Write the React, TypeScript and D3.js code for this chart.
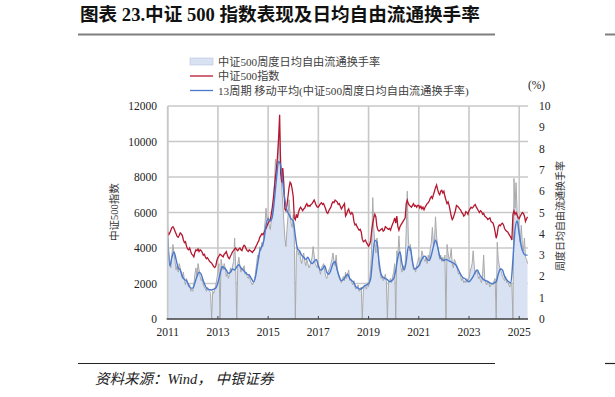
import React from 'react';
import * as d3 from 'd3';

// CSI 500 index, semi-monthly samples starting Jan 2011
const indexValues: number[] = [
  // 2011
  4900, 4750, 4850, 5000, 5150, 5200, 5100, 4950, 4800, 4650, 4600, 4700, 4850, 4800, 4700, 4450, 4300, 4350, 4100, 3950, 3900, 4000, 3800, 3650,
  // 2012
  3600, 3500, 3750, 3900, 3850, 3950, 3800, 3900, 3850, 3750, 3600, 3650, 3500, 3400, 3450, 3350, 3250, 3200, 3150, 3050, 2950, 2900, 3000, 3300,
  // 2013
  3450, 3550, 3650, 3600, 3550, 3500, 3650, 3700, 3800, 3600, 3450, 3400, 3550, 3650, 3800, 3850, 3950, 4000, 3900, 3850, 3950, 4000, 3900, 3850,
  // 2014
  4050, 4150, 4100, 3950, 3850, 3800, 3900, 3850, 3800, 3750, 3850, 3900, 4050, 4150, 4300, 4400, 4600, 4700, 4800, 4750, 4850, 5000, 5100, 5250,
  // 2015
  5400, 5500, 5600, 5900, 6300, 6800, 7400, 8000, 8500, 9200, 10200, 11500, 8200, 7700, 8500, 7600, 6200, 6100, 6400, 6900, 7400, 7700, 7600, 7300,
  // 2016
  6900, 5700, 5600, 5900, 5700, 6000, 6200, 6300, 6200, 6100, 6200, 6250, 6400, 6500, 6350, 6400, 6350, 6450, 6500, 6600, 6700, 6550, 6400, 6300,
  // 2017
  6300, 6400, 6500, 6550, 6450, 6500, 6350, 6200, 6000, 5950, 6100, 6200, 6300, 6500, 6600, 6550, 6700, 6650, 6600, 6450, 6500, 6350, 6200, 6300,
  // 2018
  6400, 6500, 5800, 5900, 6100, 6200, 6000, 5900, 6000, 5900, 5500, 5300, 5350, 5200, 5100, 5000, 5050, 4900, 4500, 4350, 4400, 4450, 4300, 4200,
  // 2019
  4100, 4200, 4400, 5000, 5400, 5700, 5900, 5750, 5200, 5000, 4950, 5000, 5050, 5100, 4950, 5000, 5200, 5150, 5100, 5050, 5100, 5000, 5200, 5350,
  // 2020
  5500, 5700, 5400, 5800, 5200, 5000, 5200, 5300, 5400, 5500, 5600, 5700, 6500, 6700, 6500, 6400, 6350, 6300, 6400, 6500, 6350, 6400, 6300, 6400,
  // 2021
  6400, 6250, 6350, 6200, 6300, 6150, 6300, 6400, 6500, 6550, 6650, 6800, 6900, 6800, 7000, 7200, 7400, 7550, 7300, 7100, 7000, 7200, 7250, 7100,
  // 2022
  7200, 6900, 6700, 6500, 6600, 6400, 6100, 5800, 5600, 5700, 5900, 6100, 6400, 6350, 6300, 6200, 6150, 6000, 5950, 5800, 5850, 6050, 6000, 5900,
  // 2023
  6100, 6200, 6300, 6250, 6300, 6400, 6450, 6300, 6200, 6100, 6000, 6100, 6050, 5900, 5950, 5800, 5750, 5700, 5600, 5650, 5700, 5500, 5450, 5400,
  // 2024
  5200, 4900, 4550, 4800, 5200, 5300, 5250, 5350, 5400, 5300, 5100, 5000, 4950, 4900, 4800, 4700, 4600, 4450, 5900, 6100, 5900, 6000, 5850, 5700,
  // 2025
  5650, 5800, 5900, 6000, 5950, 5800, 5500, 5650, 5750,
];

// weekly average free-float turnover (%), semi-monthly samples; 0 = holiday weeks
const turnoverValues: number[] = [
  4.3, 3.2, 2.6, 2.4, 3.0, 3.5, 3.1, 2.7, 2.3, 2.5, 2.2, 2.6, 2.4, 2.1, 1.9, 2.2, 1.8, 1.6, 1.9, 1.7, 1.5, 1.6, 1.3, 1.4,
  1.3, 1.6, 2.1, 2.4, 2.0, 2.6, 2.3, 2.0, 1.8, 1.9, 1.6, 1.5, 1.4, 1.3, 1.5, 1.4, 1.3, 1.2, 0.0, 1.3, 1.2, 1.4, 1.6, 1.9,
  2.2, 2.6, 0.0, 2.8, 2.5, 2.3, 2.6, 2.4, 2.0, 2.2, 1.9, 2.1, 2.4, 2.2, 2.5, 2.7, 3.8, 2.4, 0.0, 2.6, 2.9, 2.5, 2.2, 2.4,
  2.3, 2.5, 2.1, 2.2, 2.0, 1.9, 2.1, 1.8, 1.7, 1.6, 1.7, 1.8, 2.2, 2.6, 3.0, 2.8, 3.4, 3.2, 3.6, 3.4, 4.0, 4.5, 5.2, 4.6,
  4.8, 4.4, 4.2, 4.6, 4.9, 5.5, 6.3, 7.5, 6.8, 7.2, 8.3, 8.7, 7.6, 6.2, 5.4, 4.6, 3.8, 3.4, 4.2, 4.8, 5.6, 4.9, 4.5, 4.3,
  4.9, 3.8, 0.0, 3.1, 3.4, 3.0, 3.2, 2.8, 2.6, 2.9, 3.1, 2.7, 2.5, 2.8, 2.6, 2.4, 2.5, 2.7, 2.9, 3.4, 3.0, 2.6, 2.5, 2.4,
  2.6, 2.3, 2.1, 2.4, 2.5, 2.6, 2.3, 2.0, 1.9, 2.1, 2.3, 2.4, 2.6, 2.8, 3.1, 2.7, 2.5, 3.0, 2.4, 2.1, 1.9, 1.8, 1.7, 1.9,
  2.0, 1.8, 2.2, 1.9, 2.1, 2.3, 1.8, 1.9, 1.7, 1.6, 1.8, 1.5, 1.4, 1.5, 1.6, 1.3, 1.4, 1.5, 0.0, 1.3, 1.6, 1.5, 1.4, 1.7,
  1.5, 1.9, 2.3, 3.4, 5.7, 4.2, 3.6, 3.1, 3.8, 3.3, 2.4, 2.2, 1.9, 2.0, 1.8, 1.9, 2.1, 1.8, 0.0, 1.7, 1.8, 1.9, 1.7, 2.0,
  2.2, 2.6, 0.0, 3.2, 3.0, 3.9, 3.1, 2.4, 2.2, 2.5, 2.3, 2.6, 4.2, 6.0, 3.8, 3.2, 3.5, 3.0, 2.6, 2.3, 2.4, 2.2, 2.5, 2.7,
  2.9, 2.5, 2.8, 3.2, 3.0, 2.8, 2.7, 2.9, 2.6, 3.0, 2.8, 3.3, 3.6, 4.3, 3.5, 3.7, 4.8, 3.9, 3.4, 3.1, 2.8, 3.0, 2.7, 2.9,
  2.7, 3.0, 0.0, 3.5, 3.1, 2.8, 2.9, 3.3, 2.6, 2.4, 2.8, 2.7, 2.5, 2.3, 2.1, 2.2, 2.0, 1.8, 1.9, 1.7, 1.8, 1.7, 1.9, 1.8,
  1.9, 2.2, 2.4, 2.6, 3.2, 2.5, 2.1, 2.3, 2.2, 1.9, 2.0, 1.8, 1.7, 2.1, 3.0, 1.9, 1.7, 1.6, 1.8, 1.7, 1.5, 1.6, 1.7, 1.6,
  1.8, 1.9, 0.0, 3.6, 2.8, 2.5, 2.3, 2.2, 2.0, 1.9, 1.8, 2.0, 1.7, 1.8, 1.6, 1.5, 1.7, 1.6, 0.0, 6.6, 5.2, 6.4, 5.0, 4.6,
  4.0, 3.6, 4.4, 3.5, 3.2, 3.8, 2.9, 2.8, 2.6,
];

// 13-week moving average of turnover (%), monthly samples
const maValues: number[] = [
  3.8, 2.5, 2.9, 3.15, 2.8, 2.4, 2.3, 2.0, 1.85, 1.8, 1.6, 1.45,
  1.45, 1.7, 2.0, 2.2, 2.1, 1.8, 1.55, 1.4, 1.38, 1.36, 1.4, 1.45,
  1.7, 2.1, 2.45, 2.4, 2.3, 2.15, 2.2, 2.35, 2.3, 2.45, 2.55, 2.4,
  2.3, 2.2, 2.1, 2.05, 1.9, 1.75, 2.0, 2.6, 3.2, 3.4, 3.7, 4.4,
  4.7, 4.6, 4.8, 5.6, 6.6, 7.4, 7.2, 6.4, 5.6, 5.1, 4.9, 4.7,
  4.6, 3.9, 3.3, 3.2, 3.0, 2.9, 2.8, 2.9, 2.7, 2.6, 2.7, 2.8,
  2.5, 2.3, 2.35, 2.5, 2.2, 2.1, 2.3, 2.6, 2.7, 2.3, 2.0, 1.8,
  1.85, 2.0, 2.1, 1.9, 1.8, 1.7, 1.5, 1.45, 1.4, 1.45, 1.55, 1.6,
  1.65, 1.9, 2.9, 3.7, 3.6, 2.7, 2.1, 1.95, 1.9, 1.85, 1.75, 1.8,
  1.9, 2.3, 2.9, 3.15, 2.6, 2.3, 2.7, 3.4, 3.3, 2.7, 2.35, 2.4,
  2.5, 2.7, 2.9, 2.95, 2.8, 2.75, 3.0, 3.4, 3.7, 3.4, 2.95, 2.8,
  2.75, 2.8, 2.75, 2.7, 2.65, 2.6, 2.5, 2.3, 2.1, 1.95, 1.9, 1.8,
  1.75, 1.85, 2.0, 2.2, 2.3, 2.1, 1.95, 1.85, 1.8, 1.75, 1.7, 1.65,
  1.7, 1.75, 2.1, 2.35, 2.3, 2.0, 1.85, 1.75, 1.7, 2.8, 4.2, 4.6,
  4.0, 3.4, 3.1, 3.0, 3.0,
];

const leftTicks = [0, 2000, 4000, 6000, 8000, 10000, 12000];
const rightTicks = [0, 1, 2, 3, 4, 5, 6, 7, 8, 9, 10];
const yearTicks = [2011, 2013, 2015, 2017, 2019, 2021, 2023, 2025];

const legendItems = [
  { label: '中证500周度日均自由流通换手率', kind: 'area' },
  { label: '中证500指数', kind: 'red' },
  { label: '13周期 移动平均(中证500周度日均自由流通换手率)', kind: 'blue' },
];

const RED = '#b5172f';
const BLUE = '#4a78cc';
const FILL = '#d9e2f3';
const GRAY = '#aaaaaa';
const GRID = '#c8c8c8';
const SERIF = '"Liberation Serif", "Noto Sans CJK SC", serif';

export default function App() {
  const width = 615;
  const height = 397;
  const left = 167.7;
  const right = 528;
  const top = 106;
  const bottom = 319;

  const x = d3.scaleLinear().domain([2011, 2025.35]).range([left, right]);
  const yL = d3.scaleLinear().domain([0, 12000]).range([bottom, top]);
  const yR = d3.scaleLinear().domain([0, 10]).range([bottom, top]);

  const semiT = (i: number) => 2011 + i / 24;
  const monT = (i: number) => 2011 + i / 12;

  const area = d3
    .area<number>()
    .x((_, i) => x(semiT(i)))
    .y0(yR(0))
    .y1((d) => yR(d));
  const grayLine = d3
    .line<number>()
    .x((_, i) => x(semiT(i)))
    .y((d) => yR(d));
  const redLine = d3
    .line<number>()
    .x((_, i) => x(semiT(i)))
    .y((d) => yL(d));
  const blueLine = d3
    .line<number>()
    .x((_, i) => x(monT(i)))
    .y((d) => yR(d))
    .curve(d3.curveMonotoneX);

  return (
    <svg width={width} height={height} style={{ position: 'absolute', left: 0, top: 0, background: '#fff' }}>
      {/* title */}
      <text x={80} y={20.5} fontFamily={SERIF} fontWeight="bold" fontSize={18.6} fill="#111">
        图表 23.中证 500 指数表现及日均自由流通换手率
      </text>
      <line x1={78} x2={495} y1={34.5} y2={34.5} stroke="#7f7f7f" strokeWidth={2} />
      <line x1={605} x2={615} y1={34.5} y2={34.5} stroke="#7f7f7f" strokeWidth={2} />

      {/* legend */}
      {legendItems.map((d, i) => {
        const ly = 61.5 + i * 14.5;
        return (
          <g key={d.label}>
            {d.kind === 'area' ? (
              <rect x={190} y={ly - 3.5} width={23} height={7} fill={FILL} stroke="#b8c4dc" strokeWidth={0.6} />
            ) : (
              <line x1={190} x2={213} y1={ly} y2={ly} stroke={d.kind === 'red' ? RED : BLUE} strokeWidth={1.3} />
            )}
            <text x={218} y={ly + 4} fontFamily={SERIF} fontSize={11.2} fill="#404040">
              {d.label}
            </text>
          </g>
        );
      })}
      <text x={536.5} y={88.5} textAnchor="middle" fontFamily={SERIF} fontSize={11.5} fill="#222">
        (%)
      </text>

      {/* grid */}
      {leftTicks.slice(1).map((t) => (
        <line key={'h' + t} x1={left} x2={right} y1={yL(t)} y2={yL(t)} stroke={GRID} strokeWidth={1.6} />
      ))}
      {yearTicks.map((t) => (
        <line key={'v' + t} x1={x(t)} x2={x(t)} y1={top} y2={bottom} stroke={GRID} strokeWidth={1.6} />
      ))}

      {/* series */}
      <path d={area(turnoverValues) ?? ''} fill={FILL} />
      <path d={grayLine(turnoverValues) ?? ''} fill="none" stroke={GRAY} strokeWidth={1} />
      <path d={redLine(indexValues) ?? ''} fill="none" stroke={RED} strokeWidth={1.3} />
      <path d={blueLine(maValues) ?? ''} fill="none" stroke={BLUE} strokeWidth={1.4} />

      {/* axes */}
      <line x1={left} x2={left} y1={top} y2={bottom} stroke={GRID} strokeWidth={1.6} />
      <line x1={left - 1} x2={right} y1={bottom} y2={bottom} stroke="#404040" strokeWidth={1.4} />
      {yearTicks.slice(1).map((t) => (
        <line key={'t' + t} x1={x(t)} x2={x(t)} y1={bottom} y2={bottom - 3} stroke="#404040" strokeWidth={1} />
      ))}
      {leftTicks.map((t) => (
        <text key={'l' + t} x={157} y={yL(t) + 4} textAnchor="end" fontFamily={SERIF} fontSize={11.5} fill="#222">
          {t}
        </text>
      ))}
      {rightTicks.map((t) => (
        <text key={'r' + t} x={539} y={yR(t) + 4} fontFamily={SERIF} fontSize={11.5} fill="#222">
          {t}
        </text>
      ))}
      {yearTicks.map((t) => (
        <text key={'y' + t} x={x(t)} y={336} textAnchor="middle" fontFamily={SERIF} fontSize={11.5} fill="#222">
          {t}
        </text>
      ))}
      <text
        transform={`translate(118,212) rotate(-90)`}
        textAnchor="middle"
        fontFamily={SERIF}
        fontSize={10.5}
        fill="#333"
      >
        中证500指数
      </text>
      <text
        transform={`translate(564,216) rotate(-90)`}
        textAnchor="middle"
        fontFamily={SERIF}
        fontSize={10}
        fill="#333"
      >
        周度日均自由流通换手率
      </text>

      {/* source */}
      <line x1={78} x2={495} y1={363.5} y2={363.5} stroke="#222" strokeWidth={1.2} />
      <line x1={605} x2={615} y1={363.5} y2={363.5} stroke="#222" strokeWidth={1.2} />
      <text x={95} y={383.5} fontFamily={SERIF} fontStyle="italic" fontSize={14.5} fill="#222">
        资料来源：Wind， 中银证券
      </text>
    </svg>
  );
}
